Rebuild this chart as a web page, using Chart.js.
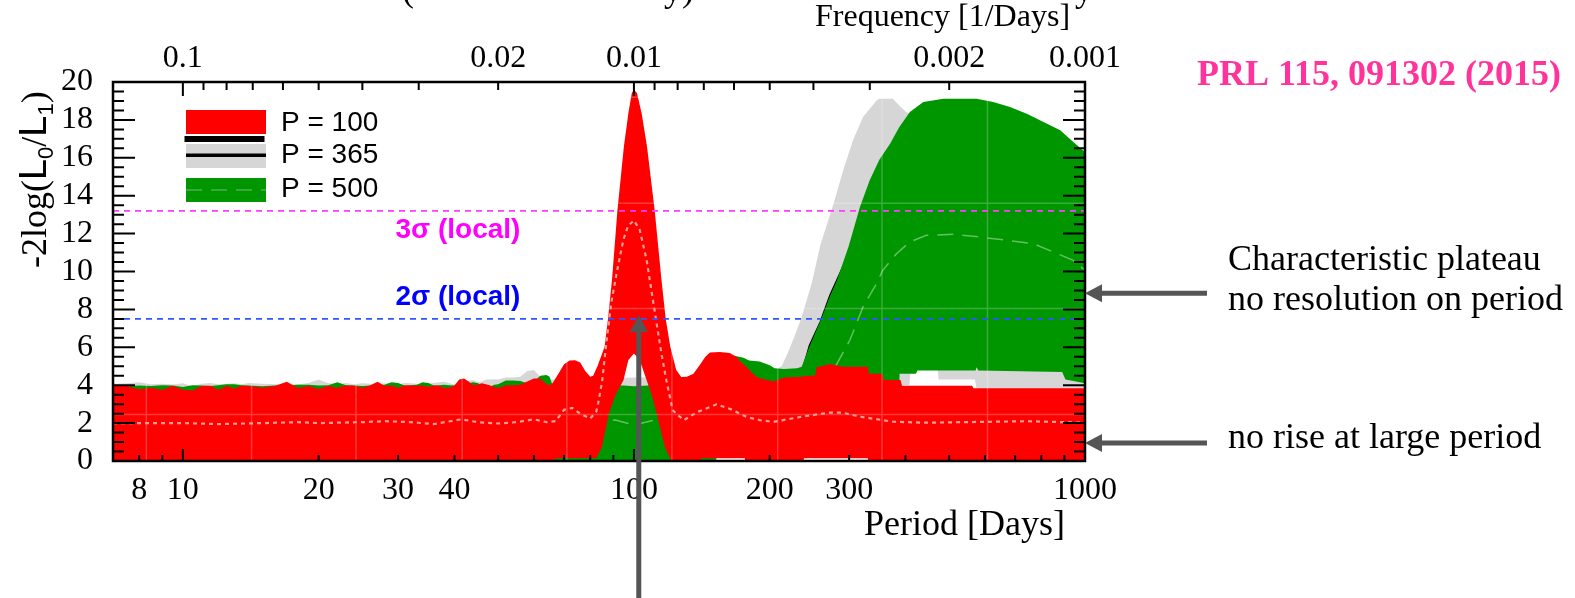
<!DOCTYPE html>
<html>
<head>
<meta charset="utf-8">
<script src="https://cdn.jsdelivr.net/npm/chart.js@4.4.1/dist/chart.umd.min.js"></script>
<style>
  html, body { margin: 0; padding: 0; background: #fff; }
  #wrap { width: 1575px; height: 598px; }
</style>
</head>
<body>
<div id="wrap"><canvas id="chart" width="1575" height="598"></canvas></div>
<script>
// ---- series ----
const seriesNames = ["P = 100", "P = 365", "P = 500"];
const seriesColors = ["#ff0000", "#d6d6d6", "#009600"];

const xRange = [7, 1000];

// short periods, where all three bands sit near 4
const lowPeriods = [7, 7.5, 8, 8.5, 9, 9.5, 10, 10.5, 11, 11.5, 12, 12.5, 13, 13.5, 14, 15, 16, 17, 18, 19,
  20, 21, 22, 23, 24, 25, 26, 27, 28, 29, 30, 31, 32, 33, 34, 35, 36, 37, 38, 39,
  40, 41, 42, 43, 44, 45, 46, 47, 48, 49, 50, 52, 54, 56, 58, 60, 62, 64];

// P = 100 band
const redPeriods = lowPeriods.concat([65, 66, 68, 70, 72, 74, 76, 78, 80, 81.2,
  83, 84.5, 86.1, 87.6, 89.4, 91.9, 95, 97.2, 98.9, 100,
  101.6, 104, 106.9, 111.2, 115.1, 117.6, 120.4, 124.1, 127.3, 131,
  135.5, 140.7, 144, 147.4, 155, 163, 168.6, 173, 177.7, 182,
  187, 195, 204, 215, 235, 240, 252, 254, 272, 290,
  330, 332, 355, 358, 390, 393, 562, 566, 1000]);
const redUpper = [3.97, 3.96, 3.78, 3.86, 3.76, 3.97, 3.76, 3.72, 3.96, 3.97,
  3.76, 3.96, 3.83, 3.97, 3.96, 3.88, 3.96, 4.18, 3.85, 3.96,
  3.80, 3.96, 3.86, 3.98, 3.97, 3.86, 3.98, 4.18, 3.97, 3.98,
  3.86, 3.98, 3.98, 3.97, 3.98, 3.90, 3.98, 3.97, 3.85, 3.86,
  3.98, 4.30, 4.36, 4.20, 4.00, 4.02, 4.10, 4.05, 3.98, 3.90,
  3.85, 4.00, 4.00, 4.02, 4.20, 4.36, 4.36, 4.05,
  4.00, 4.10, 4.60, 5.10, 5.30, 5.32, 5.20, 4.75, 4.45, 4.50,
  5.00, 5.50, 6.03, 7.51, 9.55, 13.2, 16.59, 18.35, 19.4, 19.6,
  19.4, 18.35, 16.6, 13.2, 9.55, 7.51, 6.03, 4.8, 4.43, 4.45,
  4.6, 5.14, 5.5, 5.72, 5.75, 5.7, 5.5, 5.2, 4.96, 4.7,
  4.43, 4.3, 4.2, 4.4, 4.45, 4.5, 4.5, 4.95, 5.12, 4.98,
  4.98, 4.6, 4.6, 4.27, 4.27, 3.97, 3.97, 3.84, 3.84];
const redLowerPeriods = [7, 66.5, 67, 82, 82.5, 84.9, 88, 91, 94.8, 97.2, 100, 103, 106.7,
  109.5, 112.3, 117.1, 121, 140.3, 140.7, 176, 176.5, 237.5, 238, 330, 330.5, 1000];
const redLower = [0, 0, 0.15, 0.15, 0.15, 0.74, 2.5, 3.48, 4.26, 5.33, 5.67, 5.33, 4.26,
  3.48, 2.5, 0.74, 0, 0, 0.15, 0.15, 0, 0, 0.15, 0.15, 0, 0];
const redMedPeriods = [7, 10, 12, 15, 18, 20, 25, 28, 32, 36, 41.5, 45, 50, 55, 60, 64, 67, 70, 73, 76,
  80, 82.5, 83.3, 85, 87, 89, 91.5, 94.7, 97, 100, 103, 106.7, 109.5, 112.3, 115, 118, 121.9, 128.9, 138.3, 152.5,
  163, 177.7, 190, 203.5, 233.5, 270, 290, 317, 376, 445, 742, 1000];
const redMedian = [2.0, 2.0, 1.95, 2.0, 2.05, 2.0, 2.05, 2.1, 2.05, 1.95, 2.2, 2.05, 1.98, 2.05, 2.2, 2.05, 2.1, 2.7, 2.8, 2.5,
  2.24, 2.6, 3.04, 4.2, 6.37, 8.3, 9.89, 11.65, 12.4, 12.7, 12.2, 10.6, 8.9, 7.25, 5.7, 4.26, 2.68, 2.15, 2.59, 2.99,
  2.76, 2.32, 2.16, 2.06, 2.32, 2.55, 2.55, 2.34, 2.07, 2.02, 2.1, 2.02];

// P = 500 band
const greenPeriods = lowPeriods.concat([65, 66, 80, 95, 100, 110, 140, 150, 160, 167,
  175, 180, 190, 200, 205, 215, 230, 235.4, 243.6, 260,
  271, 281.5, 299, 317, 333, 350, 370, 387, 409, 438,
  485, 575, 626, 682, 743, 809, 881, 942, 1000]);
const greenUpper = [4.02, 3.95, 3.98, 3.96, 4.0, 3.98, 3.9, 4.0, 3.98, 3.96,
  4.0, 4.05, 4.05, 4.0, 3.98, 3.95, 3.98, 3.97, 4.02, 4.03,
  3.98, 4.0, 4.15, 4.0, 3.98, 3.96, 3.98, 4.0, 4.02, 4.15,
  4.12, 3.98, 4.0, 4.02, 4.15, 4.12, 3.98, 4.0, 4.02, 4.0,
  3.98, 4.0, 4.05, 4.1, 4.15, 4.12, 4.0, 3.95, 3.92, 4.02,
  4.05, 4.25, 4.25, 4.22, 4.1, 4.2, 4.5, 4.54,
  4.45, 4.0, 4.0, 3.98, 3.95, 4.0, 4.0, 5.3, 5.55, 5.55,
  5.45, 5.3, 5.25, 5.05, 4.9, 4.85, 4.9, 4.98, 5.9, 7.5,
  8.6, 9.5, 11.3, 13.4, 14.8, 15.9, 16.75, 17.6, 18.42, 18.95,
  19.12, 19.12, 18.94, 18.68, 18.33, 17.89, 17.45, 16.83, 16.3];
const greenLowerPeriods = [7, 152, 152.5, 176.5, 177, 237.5, 238, 330.5, 331, 386, 388, 422, 425, 572, 575, 580, 890, 905, 1000];
const greenLower = [0, 0, 0.2, 0.2, 0, 0, 0.2, 0.2, 0, 0, 4.6, 4.6, 4.78, 4.78, 4.95, 4.78, 4.7, 4.3, 4.1];
const greenMedPeriods = [7, 80, 91, 100, 111, 200, 250, 270, 281, 301, 322, 345, 356, 382, 409, 445, 511, 585, 670, 768, 851, 942, 1000];
const greenMedian = [2.0, 2.05, 2.16, 1.9, 2.16, 2.0, 3.0, 4.2, 5.07, 6.37, 8.13, 9.36, 10.06, 10.94, 11.56, 11.91, 11.96, 11.82, 11.65, 11.47, 11.03, 10.59, 10.06];

// P = 365 band
const grayPeriods = lowPeriods.concat([70, 100, 107, 150, 200, 207, 212.6, 220.7, 228, 235.4,
  248, 259, 277, 291, 306, 322, 345, 350, 375, 387,
  402, 430, 600, 800, 1000]);
const grayUpper = [4.08, 4.1, 4.15, 4.05, 4.08, 4.04, 4.1, 3.95, 4.08, 4.12,
  4.05, 4.08, 4.1, 4.05, 4.12, 4.08, 4.05, 4.1, 4.05, 4.12,
  4.3, 4.1, 4.08, 4.12, 4.05, 4.1, 4.08, 4.05, 4.1, 4.08,
  4.05, 4.12, 4.1, 4.08, 4.05, 4.1, 4.12, 4.15, 4.18, 4.1,
  4.05, 4.1, 4.2, 4.25, 4.28, 4.15, 4.2, 4.3, 4.3, 4.32,
  4.3, 4.4, 4.4, 4.45, 4.75, 4.8, 4.45, 4.3,
  4.3, 4.4, 4.4, 4.3, 4.5, 4.85, 5.0, 5.86, 6.7, 7.6,
  9.4, 11.4, 13.58, 15.34, 16.92, 18.15, 19.03, 19.12, 19.12, 18.77,
  18.4, 18.2, 18.0, 17.2, 16.0];
const grayLowerPeriods = [7, 385, 387, 408, 411, 470, 474, 570, 575, 1000];
const grayLower = [0.2, 0.2, 4.0, 4.0, 5.0, 5.0, 4.3, 4.3, 3.8, 3.8];
const grayMedPeriods = [7, 100, 200, 230, 245, 259, 272, 290, 330, 400, 600, 1000];
const grayMedian = [2.0, 2.1, 2.2, 3.8, 6.1, 7.35, 8.75, 10.2, 12.0, 12.3, 12.2, 11.5];

// significance levels
const sigmaValues = [13.2, 7.5];
const sigmaLineColors = ["#ff3cff", "#2f56ff"];
const sigmaTextColors = ["#ff00ff", "#0000ff"];
const sigmaText = ["3\u03c3 (local)", "2\u03c3 (local)"];
const sigmaLabelPeriod = 29.6;
const sigmaLabelValues = [12.2, 8.65];

// axes
const yTickStep = 2;
const yMinorStep = 0.5;
const xLabelValues = [8, 10, 20, 30, 40, 100, 200, 300, 1000];
const xTickValues = [8, 9, 10, 20, 30, 40, 50, 60, 70, 80, 90, 100, 200, 300, 400, 500, 600, 700, 800, 900, 1000];
const xMajorTicks = [10, 100, 1000];
const freqLabelValues = [0.1, 0.02, 0.01, 0.002, 0.001];
const freqTickValues = [0.1, 0.09, 0.08, 0.07, 0.06, 0.05, 0.04, 0.03, 0.02,
  0.01, 0.009, 0.008, 0.007, 0.006, 0.005, 0.004, 0.003, 0.002, 0.001];
const freqMajorTicks = [0.1, 0.01, 0.001];

// faint background grid
const gridPeriods = [8.3, 14.2, 24.2, 41.6, 71, 121.4, 208.3, 354.8, 607.9];
const gridValues = [2.45, 8.05, 13.6, 19.2];

// arrows
const arrowValues = [8.85, 0.95];
const arrowPeriod = 102.5;
const arrowTipValue = 7.7;

const SERIF = '"Liberation Serif", "Times New Roman", serif';
const SANS = '"Liberation Sans", Arial, sans-serif';

const pts = (xs, ys) => xs.map((x, i) => ({ x: x, y: ys[i] }));

const hidden = { borderWidth: 0, borderColor: "transparent", pointRadius: 0, fill: false };

const datasets = [
  { data: pts(xRange, [sigmaValues[0], sigmaValues[0]]), borderColor: sigmaLineColors[0], borderWidth: 1.8, borderDash: [6, 5], pointRadius: 0, fill: false, order: 0 },
  { data: pts(xRange, [sigmaValues[1], sigmaValues[1]]), borderColor: sigmaLineColors[1], borderWidth: 1.8, borderDash: [6, 5], pointRadius: 0, fill: false, order: 0 },
  { data: pts(redMedPeriods, redMedian), borderColor: "#ff9d9d", borderWidth: 2.2, borderDash: [4, 4], pointRadius: 0, fill: false, order: 1 },
  Object.assign({ data: pts(redLowerPeriods, redLower), order: 2 }, hidden),
  { data: pts(redPeriods, redUpper), borderWidth: 0, pointRadius: 0, backgroundColor: seriesColors[0], fill: 3, order: 2 },
  { data: pts(greenMedPeriods, greenMedian), borderColor: "#62c062", borderWidth: 1.5, borderDash: [16, 9], pointRadius: 0, fill: false, order: 3 },
  Object.assign({ data: pts(greenLowerPeriods, greenLower), order: 4 }, hidden),
  { data: pts(greenPeriods, greenUpper), borderWidth: 0, pointRadius: 0, backgroundColor: seriesColors[2], fill: 6, order: 4 },
  { data: pts(grayMedPeriods, grayMedian), borderColor: "#000", borderWidth: 1.6, pointRadius: 0, fill: false, order: 5 },
  Object.assign({ data: pts(grayLowerPeriods, grayLower), order: 6 }, hidden),
  { data: pts(grayPeriods, grayUpper), borderWidth: 0, pointRadius: 0, backgroundColor: seriesColors[1], fill: 9, order: 6 }
];

// light grid lines laid over the bands, under the medians
const faintGrid = {
  id: "faintGrid",
  beforeDatasetDraw(chart, args) {
    if (args.index !== 2) return;
    const { ctx, chartArea: a, scales } = chart;
    ctx.save();
    ctx.strokeStyle = "rgba(255,255,255,0.22)";
    ctx.lineWidth = 1.5;
    ctx.beginPath();
    gridPeriods.forEach(p => {
      const px = scales.x.getPixelForValue(p);
      ctx.moveTo(px, a.top); ctx.lineTo(px, a.bottom);
    });
    gridValues.forEach(v => {
      const py = scales.y.getPixelForValue(v);
      ctx.moveTo(a.left, py); ctx.lineTo(a.right, py);
    });
    ctx.stroke();
    ctx.restore();
  }
};

function drawArrow(ctx, x0, y0, x1, y1) {
  const ang = Math.atan2(y1 - y0, x1 - x0);
  const head = 17, half = 9;
  ctx.beginPath();
  ctx.moveTo(x0, y0);
  ctx.lineTo(x1 - Math.cos(ang) * head, y1 - Math.sin(ang) * head);
  ctx.stroke();
  ctx.beginPath();
  ctx.moveTo(x1, y1);
  ctx.lineTo(x1 - Math.cos(ang) * head - Math.sin(ang) * half, y1 - Math.sin(ang) * head + Math.cos(ang) * half);
  ctx.lineTo(x1 - Math.cos(ang) * head + Math.sin(ang) * half, y1 - Math.sin(ang) * head - Math.cos(ang) * half);
  ctx.closePath();
  ctx.fill();
}

const decorations = {
  id: "decorations",
  afterDraw(chart) {
    const { ctx, chartArea: a, scales } = chart;
    const x = scales.x, y = scales.y, top = scales.xTop;
    ctx.save();

    // inward tick marks and frame
    ctx.strokeStyle = "#000";
    ctx.lineWidth = 2;
    ctx.beginPath();
    for (let v = y.min; v <= y.max; v += yMinorStep) {
      const py = y.getPixelForValue(v);
      const len = v % yTickStep === 0 ? 22 : 11;
      ctx.moveTo(a.left, py); ctx.lineTo(a.left + len, py);
      ctx.moveTo(a.right, py); ctx.lineTo(a.right - len, py);
    }
    xTickValues.forEach(p => {
      const px = x.getPixelForValue(p);
      const len = xMajorTicks.includes(p) ? 12 : 6;
      ctx.moveTo(px, a.bottom); ctx.lineTo(px, a.bottom - len);
    });
    freqTickValues.forEach(f => {
      const px = top.getPixelForValue(f);
      const len = freqMajorTicks.includes(f) ? 14 : 8;
      ctx.moveTo(px, a.top); ctx.lineTo(px, a.top + len);
    });
    ctx.stroke();
    ctx.lineWidth = 2.5;
    ctx.strokeRect(a.left, a.top, a.right - a.left, a.bottom - a.top);

    // significance labels
    ctx.font = "bold 28px " + SANS;
    ctx.textBaseline = "middle";
    sigmaText.forEach((t, i) => {
      ctx.fillStyle = sigmaTextColors[i];
      ctx.fillText(t, x.getPixelForValue(sigmaLabelPeriod), y.getPixelForValue(sigmaLabelValues[i]));
    });

    // legend
    const lx = 186, lw = 80;
    ctx.fillStyle = seriesColors[0];
    ctx.fillRect(lx, 110, lw, 24);
    ctx.fillStyle = "#000";
    ctx.fillRect(lx - 1.5, 136, lw, 6);
    ctx.fillStyle = seriesColors[1];
    ctx.fillRect(lx, 144, lw, 24);
    ctx.fillStyle = "#000";
    ctx.fillRect(lx, 153.5, lw, 3.5);
    ctx.fillStyle = seriesColors[2];
    ctx.fillRect(lx, 178, lw, 24);
    ctx.strokeStyle = "#4cb04c";
    ctx.lineWidth = 1.5;
    ctx.setLineDash([16, 9]);
    ctx.beginPath(); ctx.moveTo(lx, 190); ctx.lineTo(lx + lw, 190); ctx.stroke();
    ctx.setLineDash([]);
    ctx.fillStyle = "#000";
    ctx.font = "28px " + SANS;
    [123, 155, 189].forEach((cy, i) => ctx.fillText(seriesNames[i], 281, cy));

    // axis titles
    ctx.textBaseline = "alphabetic";
    ctx.font = "36px " + SERIF;
    ctx.textAlign = "right";
    ctx.fillText("Period [Days]", 1065, 535);
    ctx.textAlign = "left";
    ctx.font = "32px " + SERIF;
    ctx.fillText("Frequency [1/Days]", 815, 26);

    // y title: -2log(L0/L1)
    const parts = [
      { t: "-2log(", f: "36px " + SERIF, dy: 0 },
      { t: "L", f: "38px " + SANS, dy: 0 },
      { t: "0", f: "22px " + SANS, dy: 7 },
      { t: "/", f: "36px " + SERIF, dy: 0 },
      { t: "L", f: "38px " + SANS, dy: 0 },
      { t: "1", f: "22px " + SANS, dy: 7 },
      { t: ")", f: "36px " + SERIF, dy: 0 }
    ];
    ctx.save();
    ctx.translate(46, 268);
    ctx.rotate(-Math.PI / 2);
    let cx = 0;
    parts.forEach(p => {
      ctx.font = p.f;
      ctx.fillText(p.t, cx, p.dy);
      cx += ctx.measureText(p.t).width;
    });
    ctx.restore();

    // heading line running off the top edge
    ctx.font = "36px " + SERIF;
    ctx.fillText("(", 402, 1);
    ctx.fillText("y)", 664, 1);
    ctx.fillText("y", 1075, 1);

    // reference and notes on the right
    ctx.fillStyle = "#ff3399";
    ctx.font = "bold 36px " + SERIF;
    ctx.fillText("PRL 115, 091302 (2015)", 1197, 85);
    ctx.fillStyle = "#000";
    ctx.font = "36px " + SERIF;
    ctx.fillText("Characteristic plateau", 1228, 270);
    ctx.fillText("no resolution on period", 1228, 310);
    ctx.fillText("no rise at large period", 1228, 448);

    // arrows
    ctx.strokeStyle = "#555";
    ctx.fillStyle = "#555";
    ctx.lineWidth = 5;
    arrowValues.forEach(v => {
      const py = y.getPixelForValue(v);
      drawArrow(ctx, 1207, py, a.right, py);
    });
    const ax = x.getPixelForValue(arrowPeriod);
    drawArrow(ctx, ax, 598, ax, y.getPixelForValue(arrowTipValue));

    ctx.restore();
  }
};

new Chart(document.getElementById("chart"), {
  type: "line",
  data: { datasets: datasets },
  options: {
    responsive: false,
    animation: false,
    devicePixelRatio: 1,
    layout: { padding: { left: 0, top: 0, bottom: 0, right: 490 } },
    elements: { line: { tension: 0 } },
    plugins: { legend: { display: false }, tooltip: { enabled: false } },
    scales: {
      x: {
        type: "logarithmic", position: "bottom", min: xRange[0], max: xRange[1], bounds: "data",
        grid: { display: false }, border: { display: false },
        afterBuildTicks: s => { s.ticks = xLabelValues.map(v => ({ value: v })); },
        afterFit: s => { s.height = 137; },
        ticks: { autoSkip: false, maxRotation: 0, padding: 2, color: "#000",
          font: { family: SERIF, size: 32 }, callback: v => String(v) }
      },
      xTop: {
        type: "logarithmic", position: "top", reverse: true, min: 0.001, max: 1 / xRange[0], bounds: "data",
        grid: { display: false }, border: { display: false },
        afterBuildTicks: s => { s.ticks = freqLabelValues.map(v => ({ value: v })); },
        afterFit: s => { s.height = 82; },
        ticks: { autoSkip: false, maxRotation: 0, padding: -4, color: "#000",
          font: { family: SERIF, size: 32 }, callback: v => String(v) }
      },
      y: {
        type: "linear", position: "left", min: 0, max: 20,
        grid: { display: false }, border: { display: false },
        afterFit: s => { s.width = 113; },
        ticks: { stepSize: yTickStep, autoSkip: false, padding: 12, color: "#000",
          font: { family: SERIF, size: 32 } }
      }
    }
  },
  plugins: [faintGrid, decorations]
});
</script>
</body>
</html>
